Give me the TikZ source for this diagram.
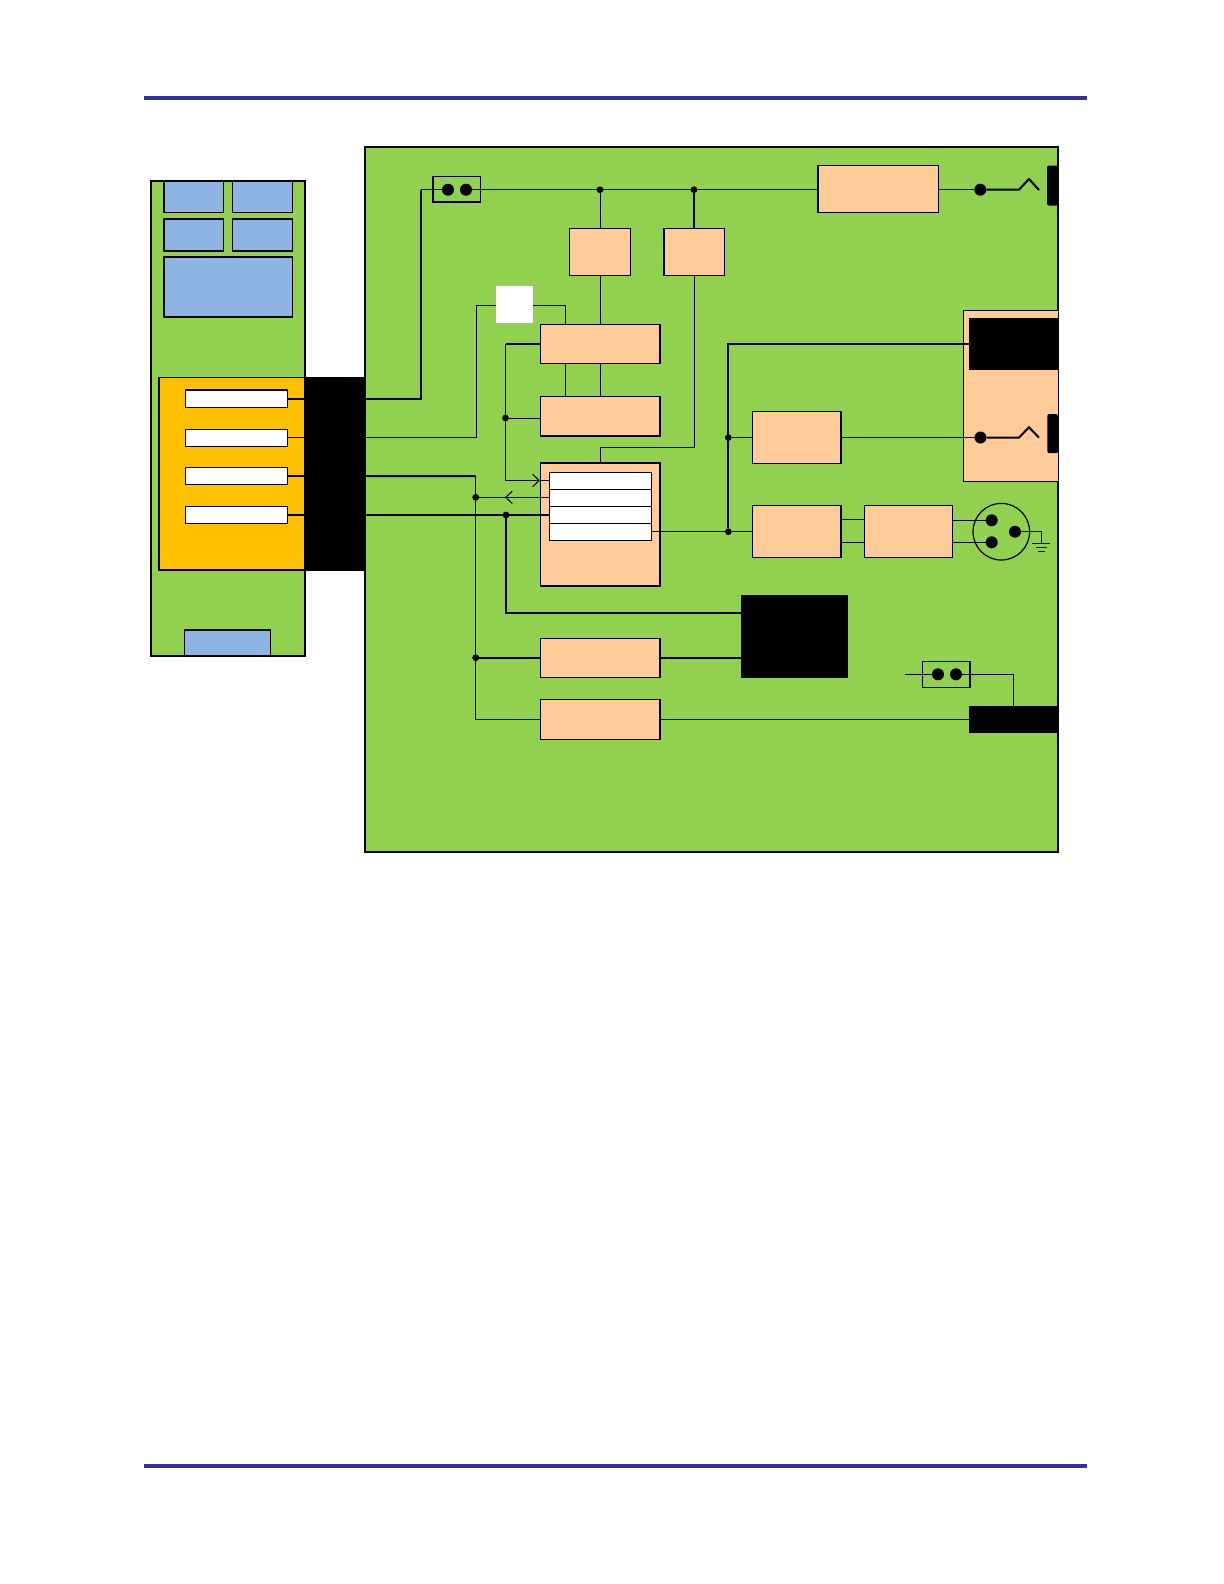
\documentclass[tikz,border=0pt]{standalone}
\usepackage{xcolor}
\usepackage{tikz}
\usetikzlibrary{arrows.meta, positioning}
\definecolor{boardgreen}{HTML}{92D050}
\definecolor{slotyellow}{HTML}{FFC000}
\definecolor{ledblue}{HTML}{8DB4E2}
\definecolor{blockpeach}{HTML}{FFCC99}
\definecolor{ruleblue}{HTML}{333399}

\begin{document}
\begin{tikzpicture}[
    x=0.5bp, y=-0.5bp,
    block/.style={rectangle, draw, inner sep=0pt, outer sep=0pt, line width=0.65bp, anchor=north west},
    peach/.style={block, fill=blockpeach},
    board/.style={block, fill=boardgreen, line width=0.8bp},
    led/.style={block, fill=ledblue},
    bar/.style={block, fill=white},
    blackbox/.style={rectangle, fill=black, inner sep=0pt, outer sep=0pt, anchor=north west},
    jdot/.style={circle, fill=black, inner sep=0pt, outer sep=0pt, minimum size=3.4bp},
    pin/.style={circle, fill=black, inner sep=0pt, outer sep=0pt, minimum size=6bp},
    wire/.style={line width=0.5bp},
    hwire/.style={line width=1bp},
    barb/.style={-{Straight Barb[length=3.3bp, width=6.2bp]}, line width=0.5bp},
]
\useasboundingbox (0,0) rectangle (1224,1584);
% page rules
\node[blackbox, fill=ruleblue, minimum width=471.3bp, minimum height=2bp] (toprule) at (144,96) {};
\node[blackbox, fill=ruleblue, below=682bp of toprule.south west, anchor=north west, minimum width=471.3bp, minimum height=2bp] (botrule) {};
% left card
\node[board, minimum width=77bp, minimum height=237.5bp] (card) at (151,181) {};
\node[led, minimum width=29.7bp, minimum height=15.8bp] (ledA) at (164,181) {};
\node[led, minimum width=30bp, minimum height=15.8bp, right=4.5bp of ledA.north east, anchor=north west] (ledB) {};
\node[led, minimum width=29.7bp, minimum height=16bp] (ledC) at (164,219) {};
\node[led, minimum width=30bp, minimum height=16bp, right=4.5bp of ledC.north east, anchor=north west] (ledD) {};
\node[led, minimum width=64.2bp, minimum height=30bp] (ledE) at (164,257) {};
\node[led, minimum width=43bp, minimum height=13bp] (ledF) at (184.5,630) {};
\node[block, fill=slotyellow, minimum width=73bp, minimum height=96.3bp] (slot) at (159,377.5) {};
\node[bar, minimum width=51bp, minimum height=8.6bp] (barA) at (185.5,390) {};
\node[bar, minimum width=51bp, minimum height=8.6bp, below=11bp of barA.south west, anchor=north west] (barB) {};
\node[bar, minimum width=51bp, minimum height=8.6bp, below=10.6bp of barB.south west, anchor=north west] (barC) {};
\node[bar, minimum width=51bp, minimum height=8.6bp, below=10.7bp of barC.south west, anchor=north west] (barD) {};
% main board
\node[board, minimum width=346.5bp, minimum height=352.5bp] (main) at (365,146.7) {};
\node[blackbox, minimum width=30.5bp, minimum height=97bp] (conn) at (305,377) {};
% top row
\node[block, minimum width=23.6bp, minimum height=12.7bp] (fuseA) at (433,176.7) {};
\node[pin] (fuseApinA) at (448,189.7) {};
\node[pin] (fuseApinB) at (466,189.7) {};
\node[peach, minimum width=60.2bp, minimum height=23.5bp] (psu) at (818,165.7) {};
\node[jdot] (jA) at (600,189.7) {};
\node[jdot] (jB) at (694,189.7) {};
\node[peach, minimum width=30.2bp, minimum height=23.7bp] (regA) at (569.8,228.3) {};
\node[peach, minimum width=30.2bp, minimum height=23.7bp] (regB) at (664,228.3) {};
\node[pin] (outApin) at (980.3,189.7) {};
\coordinate (outAa) at (1019,189.7);
\coordinate (outAb) at (1029,179);
\coordinate (outAc) at (1039,190);
\node[blackbox, rounded corners=1bp, minimum width=5.5bp, minimum height=20bp] (jackA) at (1047,165.5) {};
% white link
\node[blackbox, fill=white, minimum width=18.5bp, minimum height=18.5bp] (link) at (496,286) {};
\coordinate (linkL) at (476,305);
\coordinate (linkR) at (565,305);
% centre column
\node[peach, minimum width=59.8bp, minimum height=19.5bp] (ctlA) at (540.5,324.5) {};
\node[peach, minimum width=59.8bp, minimum height=19.7bp, below=16.6bp of ctlA.south west, anchor=north west] (ctlB) {};
\node[peach, minimum width=59.8bp, minimum height=61.5bp, below=13.5bp of ctlB.south west, anchor=north west] (ctlC) {};
\node[bar, minimum width=51bp, minimum height=8.5bp] (rowA) at (549.5,472.5) {};
\node[bar, minimum width=51bp, minimum height=8.5bp, below=0pt of rowA.south west, anchor=north west] (rowB) {};
\node[bar, minimum width=51bp, minimum height=8.5bp, below=0pt of rowB.south west, anchor=north west] (rowC) {};
\node[bar, minimum width=51bp, minimum height=8.5bp, below=0pt of rowC.south west, anchor=north west] (rowD) {};
\node[peach, minimum width=59.8bp, minimum height=19.5bp] (ctlD) at (540.5,638.5) {};
\node[peach, minimum width=59.8bp, minimum height=20bp] (ctlE) at (540.5,699.5) {};
\node[blackbox, minimum width=53.3bp, minimum height=41.4bp] (chip) at (741,595) {};
\node[jdot] (jC) at (505.5,418) {};
\node[jdot] (jD) at (475.7,497.3) {};
\node[jdot] (jE) at (506,515) {};
\node[jdot] (jF) at (475.7,657.7) {};
\coordinate (busL) at (505.5,343.7);
\coordinate (tipA) at (540,480.5);
\coordinate (tipB) at (505,497.3);
\coordinate (busM) at (475.7,476);
\coordinate (busB) at (475.7,719);
\coordinate (hopA) at (694,447);
\coordinate (hopB) at (600,447);
\coordinate (fuseBus) at (421,189.7);
\coordinate (chipIn) at (741,612.7);
% right side
\node[peach, line width=0.5bp, minimum width=47.4bp, minimum height=85.5bp] (audio) at (963.3,310.3) {};
\node[blackbox, minimum width=44.5bp, minimum height=26.2bp] (audioTop) at (969,318) {};
\node[jdot] (jG) at (728.3,437.5) {};
\node[jdot] (jH) at (728.3,531.7) {};
\coordinate (busR) at (728.3,344);
\node[peach, minimum width=44.2bp, minimum height=26bp] (ampA) at (752.6,411.3) {};
\node[peach, minimum width=44.2bp, minimum height=25.8bp] (ampB) at (752.6,505.7) {};
\node[peach, minimum width=43.8bp, minimum height=25.8bp, right=11.8bp of ampB.north east, anchor=north west] (ampC) {};
\coordinate (brA) at (841,519.3);
\node[pin] (outBpin) at (980.5,437.5) {};
\coordinate (outBa) at (1019,437.5);
\coordinate (outBb) at (1029,427.3);
\coordinate (outBc) at (1039,437.7);
\node[blackbox, rounded corners=1bp, minimum width=5.4bp, minimum height=19.6bp] (jackB) at (1047.3,414) {};
% round plug
\node[circle, draw, inner sep=0pt, outer sep=0pt, line width=0.6bp, minimum size=28.3bp] (plug) at (1001.3,531.7) {};
\node[pin] (plugA) at (991.7,520.3) {};
\node[pin] (plugB) at (991.7,542.3) {};
\node[pin] (plugC) at (1015,531.7) {};
\coordinate (earth) at (1041,543.3);
\coordinate (earthAl) at (1032.3,543.3);
\coordinate (earthAr) at (1050,543.3);
\coordinate (earthBl) at (1035.7,547.3);
\coordinate (earthBr) at (1046.7,547.3);
\coordinate (earthCl) at (1037.7,551.3);
\coordinate (earthCr) at (1045,551.3);
% lower right
\node[block, minimum width=23.8bp, minimum height=13bp] (fuseB) at (922.3,661.3) {};
\node[pin] (fuseBpinA) at (938,674.3) {};
\node[pin] (fuseBpinB) at (956,674.3) {};
\coordinate (fuseBin) at (905,674.3);
\coordinate (fuseBup) at (1013.7,674.3);
\node[blackbox, minimum width=44.5bp, minimum height=13.4bp] (strip) at (969,706) {};
% wires of the card
\draw[hwire] (barA.east) -- (conn.west |- barA.east);
\draw[wire] (barB.east) -- (conn.west |- barB.east);
\draw[hwire] (barC.east) -- (conn.west |- barC.east);
\draw[hwire] (barD.east) -- (conn.west |- barD.east);
% wires of the main board
\draw[hwire] (conn.east |- barA.east) -| (fuseBus);
\draw[wire] (fuseBus) -- (fuseApinA);
\draw[wire] (fuseApinB) -- (psu.west |- fuseApinB);
\draw[wire] (psu.east |- outApin) -- (outApin);
\draw[hwire] (outApin) -- (outAa) -- (outAb) -- (outAc);
\draw[wire] (jA) -- (regA.north -| jA);
\draw[hwire] (jB) -- (regB.north -| jB);
\draw[wire] (regA.south -| jA) -- (ctlA.north -| jA);
\draw[wire] (regB.south -| hopA) -- (hopA) -- (hopB) -- (ctlC.north -| hopB);
\draw[wire] (conn.east |- barB.east) -| (linkL) -- (link.west |- linkL);
\draw[wire] (link.east |- linkR) -- (linkR) -- (ctlA.north -| linkR);
\draw[wire] (ctlA.south -| linkR) -- (ctlB.north -| linkR);
\draw[wire] (ctlA.south -| hopB) -- (ctlB.north -| hopB);
\draw[hwire] (ctlA.west |- busL) -- (busL);
\draw[barb] (busL) |- (tipA);
\draw[wire] (tipA) -- (rowA.west |- tipA);
\draw[wire] (jC) -- (ctlB.west |- jC);
\draw[barb] (rowB.west |- tipB) -- (tipB);
\draw[wire] (tipB) -- (jD);
\draw[hwire] (conn.east |- barC.east) -- (busM);
\draw[wire] (busM) -- (busB) -- (ctlE.west |- busB);
\draw[hwire] (conn.east |- barD.east) -- (rowC.west |- barD.east);
\draw[hwire] (jE) |- (chipIn);
\draw[hwire] (jF) -- (ctlD.west |- jF);
\draw[hwire] (ctlD.east |- jF) -- (chip.west |- jF);
\draw[wire] (ctlE.east |- busB) -- (strip.west |- busB);
\draw[wire] (rowD.east |- jH) -- (jH) -- (ampB.west |- jH);
\draw[hwire] (jH) -- (busR) -- (audioTop.west |- busR);
\draw[wire] (jG) -- (ampA.west |- jG);
\draw[wire] (ampA.east |- jG) -- (outBpin);
\draw[hwire] (outBpin) -- (outBa) -- (outBb) -- (outBc);
\draw[wire] (brA) -- (ampC.west |- brA);
\draw[wire] (ampB.east |- plugB) -- (ampC.west |- plugB);
\draw[wire] (ampC.east |- plugA) -- (plugA);
\draw[wire] (ampC.east |- plugB) -- (plugB);
\draw[wire] (plugC) -| (earth);
\draw[wire] (earthAl) -- (earthAr);
\draw[wire] (earthBl) -- (earthBr);
\draw[wire] (earthCl) -- (earthCr);
\draw[wire] (fuseBin) -- (fuseBpinA);
\draw[wire] (fuseBpinB) -- (fuseBup) -- (strip.north -| fuseBup);
\end{tikzpicture}
\end{document}
